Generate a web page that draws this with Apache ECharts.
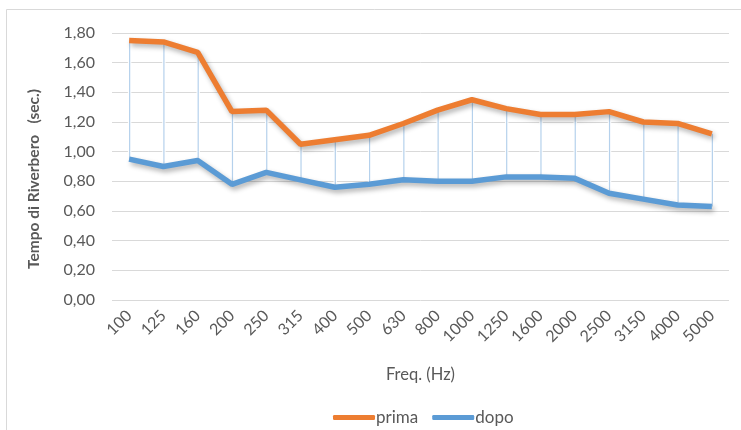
<!DOCTYPE html>
<html>
<head>
<meta charset="utf-8">
<script src="https://cdn.jsdelivr.net/npm/echarts@6/dist/echarts.min.js"></script>
<style>
  html, body { margin: 0; padding: 0; background: #ffffff; }
  #chart { width: 741px; height: 430px; }
</style>
</head>
<body>
<div id="chart"></div>
<script>
// Frequenze di terzo d'ottava (Hz)
const frequencies = ['100', '125', '160', '200', '250', '315', '400', '500', '630', '800',
  '1000', '1250', '1600', '2000', '2500', '3150', '4000', '5000'];

// Tempo di riverbero prima dell'intervento (s)
const prima = [1.75, 1.74, 1.67, 1.27, 1.28, 1.05, 1.08, 1.11, 1.19, 1.28,
  1.35, 1.29, 1.25, 1.25, 1.27, 1.20, 1.19, 1.12];

// Tempo di riverbero dopo l'intervento (s)
const dopo = [0.95, 0.90, 0.94, 0.78, 0.86, 0.81, 0.76, 0.78, 0.81, 0.80,
  0.80, 0.83, 0.83, 0.82, 0.72, 0.68, 0.64, 0.63];

// Scala dell'asse verticale
const yMin = 0;
const yMax = 1.8;
const yStep = 0.2;

const FONT = 'Lato, "Liberation Sans", sans-serif';
const TEXT = '#595959';
const ORANGE = '#ED7D31';
const BLUE = '#5B9BD5';

const chart = echarts.init(document.getElementById('chart'), null, { renderer: 'canvas' });

const fmt = v => v.toFixed(2).replace('.', ',');

// Linee verticali tra i due valori di ciascuna frequenza
const hiLow = frequencies.map((f, i) => [i, prima[i], dopo[i]]);

const lineShadow = {
  shadowColor: 'rgba(0,0,0,0.3)',
  shadowBlur: 5,
  shadowOffsetX: 2,
  shadowOffsetY: 3
};

chart.setOption({
  backgroundColor: '#ffffff',
  animation: false,
  textStyle: { fontFamily: FONT },
  graphic: [
    {
      type: 'rect',
      shape: { x: 6.5, y: 9.5, width: 760, height: 460 },
      style: { fill: null, stroke: '#d9d9d9', lineWidth: 1 },
      silent: true,
      z: -10
    },
    {
      type: 'text',
      x: 34,
      y: 179,
      rotation: Math.PI / 2,
      style: {
        text: 'Tempo di Riverbero   (sec.)',
        fontFamily: FONT,
        fontSize: 15.5,
        fontWeight: 'bold',
        fill: TEXT,
        align: 'center',
        verticalAlign: 'middle'
      }
    }
  ],
  grid: { left: 112, right: 12, top: 33, bottom: 130, containLabel: false },
  legend: {
    data: ['prima', 'dopo'],
    top: 404,
    left: 328,
    itemWidth: 42,
    itemHeight: 5,
    itemGap: 14,
    icon: 'roundRect',
    textStyle: { fontFamily: FONT, fontSize: 17, color: TEXT, padding: [0, 0, 0, -4] }
  },
  xAxis: {
    type: 'category',
    data: frequencies,
    boundaryGap: true,
    name: 'Freq. (Hz)',
    nameLocation: 'middle',
    nameGap: 66,
    nameTextStyle: { fontFamily: FONT, fontSize: 16.5, color: TEXT },
    axisLine: { show: false },
    axisTick: { show: false },
    axisLabel: {
      rotate: 45,
      margin: 13,
      fontFamily: FONT,
      fontSize: 16,
      color: TEXT,
      interval: 0
    }
  },
  yAxis: {
    type: 'value',
    min: yMin,
    max: yMax,
    interval: yStep,
    axisLine: { show: false },
    axisTick: { show: false },
    splitLine: { lineStyle: { color: '#d9d9d9', width: 1 } },
    axisLabel: {
      formatter: fmt,
      margin: 17,
      fontFamily: FONT,
      fontSize: 16,
      color: TEXT
    }
  },
  series: [
    {
      type: 'custom',
      name: 'hilow',
      data: hiLow,
      z: 1,
      silent: true,
      renderItem: function (params, api) {
        const top = api.coord([api.value(0), api.value(1)]);
        const bot = api.coord([api.value(0), api.value(2)]);
        return {
          type: 'group',
          children: [
            {
              type: 'line',
              shape: { x1: top[0] + 0.5, y1: top[1], x2: bot[0] + 0.5, y2: bot[1] },
              style: { stroke: 'rgba(255,255,255,0.9)', lineWidth: 3.5 }
            },
            {
              type: 'line',
              shape: { x1: top[0] + 0.5, y1: top[1], x2: bot[0] + 0.5, y2: bot[1] },
              style: { stroke: '#b5d1ec', lineWidth: 1.2 }
            }
          ]
        };
      }
    },
    {
      name: 'prima',
      type: 'line',
      data: prima,
      symbol: 'none',
      z: 3,
      color: ORANGE,
      lineStyle: Object.assign({ color: ORANGE, width: 5.5 }, lineShadow)
    },
    {
      name: 'dopo',
      type: 'line',
      data: dopo,
      symbol: 'none',
      z: 3,
      color: BLUE,
      lineStyle: Object.assign({ color: BLUE, width: 5.5 }, lineShadow)
    }
  ]
});
</script>
</body>
</html>
